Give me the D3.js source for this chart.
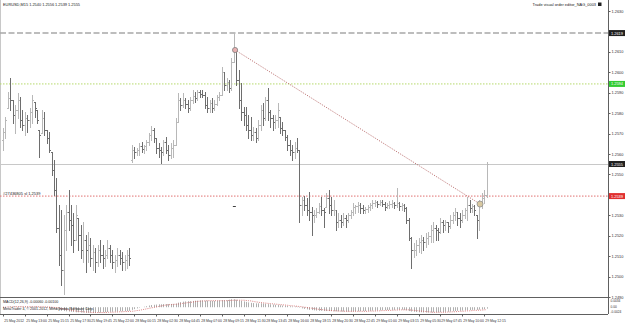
<!DOCTYPE html>
<meta charset="utf-8">
<script src="https://d3js.org/d3.v7.min.js"></script>
<style>
    body { margin: 0; background: #fff; }
    text { font-family: "Liberation Sans", Arial, sans-serif; }
</style>
<div id="chart"></div>
<script>
    // EURUSD M15 bars
    const opens = [
        1.25669,1.25708,1.25825,1.25874,1.25864,1.25791,1.25815,1.25864,1.25766,1.25742,
        1.25776,1.25766,1.25806,1.25855,1.25815,1.25717,1.25703,1.25776,1.25717,1.25678,
        1.25610,1.25522,1.25424,1.25238,1.25106,1.25032,1.25228,1.25316,1.25277,1.25252,
        1.25179,1.25287,1.25203,1.25130,1.25179,1.25130,1.25155,1.25091,1.25120,1.25071,
        1.25130,1.25106,1.25091,1.25106,1.25140,1.25106,1.25071,1.25081,1.25106,1.25091,
        1.25071,1.25081,1.25106,1.25571,1.25620,1.25610,1.25620,1.25639,1.25624,1.25639,
        1.25659,1.25693,1.25717,1.25678,1.25629,1.25620,1.25610,1.25659,1.25620,1.25595,
        1.25629,1.25644,1.25757,1.25864,1.25840,1.25864,1.25845,1.25825,1.25864,1.25884,
        1.25874,1.25903,1.25894,1.25889,1.25840,1.25825,1.25850,1.25825,1.25845,1.25879,
        1.25889,1.26001,1.25938,1.25952,1.25923,1.26050,1.26109,1.25962,1.25864,1.25806,
        1.25791,1.25742,1.25717,1.25693,1.25708,1.25678,1.25742,1.25815,1.25776,1.25864,
        1.25806,1.25776,1.25757,1.25766,1.25781,1.25727,1.25717,1.25683,1.25644,1.25620,
        1.25610,1.25629,1.25620,1.25350,1.25375,1.25350,1.25326,1.25316,1.25301,1.25301,
        1.25316,1.25345,1.25326,1.25341,1.25385,1.25350,1.25326,1.25326,1.25267,1.25277,
        1.25267,1.25287,1.25277,1.25301,1.25316,1.25341,1.25345,1.25350,1.25336,1.25326,
        1.25331,1.25341,1.25350,1.25360,1.25365,1.25355,1.25365,1.25355,1.25341,1.25350,
        1.25355,1.25360,1.25350,1.25360,1.25345,1.25350,1.25336,1.25277,1.25189,1.25130,
        1.25130,1.25155,1.25169,1.25179,1.25169,1.25189,1.25199,1.25228,1.25238,1.25228,
        1.25218,1.25267,1.25252,1.25267,1.25248,1.25277,1.25301,1.25316,1.25287,1.25277,
        1.25301,1.25326,1.25350,1.25336,1.25345,1.25301,1.25277,1.25350,1.25385,1.25399
    ];
    const highs = [
        1.25727,1.25781,1.25903,1.25972,1.25864,1.25840,1.25899,1.25879,1.25815,1.25806,
        1.25791,1.25825,1.25889,1.25855,1.25815,1.25717,1.25815,1.25806,1.25717,1.25708,
        1.25610,1.25571,1.25483,1.25350,1.25326,1.25301,1.25350,1.25424,1.25350,1.25311,
        1.25350,1.25287,1.25252,1.25267,1.25203,1.25218,1.25189,1.25155,1.25140,1.25155,
        1.25179,1.25155,1.25130,1.25179,1.25155,1.25130,1.25106,1.25140,1.25130,1.25120,
        1.25106,1.25130,1.25140,1.25644,1.25634,1.25629,1.25654,1.25659,1.25644,1.25669,
        1.25703,1.25737,1.25727,1.25678,1.25654,1.25634,1.25669,1.25683,1.25644,1.25654,
        1.25669,1.25776,1.25899,1.25874,1.25899,1.25874,1.25864,1.25879,1.25913,1.25903,
        1.25913,1.25913,1.25913,1.25903,1.25879,1.25864,1.25874,1.25864,1.25889,1.25903,
        1.26026,1.26001,1.25972,1.25962,1.26070,1.26192,1.26119,1.26011,1.25948,1.25830,
        1.25830,1.25791,1.25781,1.25732,1.25727,1.25766,1.25840,1.25850,1.25879,1.25923,
        1.25815,1.25791,1.25791,1.25850,1.25781,1.25757,1.25717,1.25693,1.25669,1.25644,
        1.25659,1.25678,1.25620,1.25390,1.25394,1.25385,1.25414,1.25341,1.25326,1.25336,
        1.25360,1.25390,1.25336,1.25409,1.25424,1.25390,1.25375,1.25326,1.25311,1.25301,
        1.25311,1.25301,1.25311,1.25326,1.25360,1.25350,1.25365,1.25360,1.25350,1.25341,
        1.25350,1.25360,1.25375,1.25375,1.25370,1.25375,1.25375,1.25365,1.25360,1.25370,
        1.25375,1.25365,1.25434,1.25365,1.25360,1.25355,1.25341,1.25287,1.25194,1.25164,
        1.25179,1.25189,1.25203,1.25194,1.25213,1.25218,1.25252,1.25267,1.25252,1.25238,
        1.25287,1.25277,1.25277,1.25267,1.25301,1.25316,1.25336,1.25316,1.25311,1.25326,
        1.25336,1.25390,1.25375,1.25355,1.25350,1.25301,1.25375,1.25409,1.25424,1.25561
    ];
    const lows = [
        1.25620,1.25678,1.25825,1.25815,1.25752,1.25703,1.25776,1.25732,1.25717,1.25693,
        1.25708,1.25732,1.25752,1.25781,1.25752,1.25585,1.25703,1.25693,1.25654,1.25610,
        1.25497,1.25399,1.25218,1.25057,1.24959,1.24915,1.25130,1.25228,1.25155,1.25120,
        1.25179,1.25130,1.25091,1.25071,1.25022,1.25071,1.25052,1.25032,1.25022,1.25052,
        1.25071,1.25042,1.25052,1.25091,1.25071,1.25042,1.25022,1.25052,1.25062,1.25032,
        1.25032,1.25042,1.25057,1.25561,1.25580,1.25595,1.25595,1.25610,1.25605,1.25620,
        1.25644,1.25669,1.25659,1.25605,1.25585,1.25556,1.25595,1.25605,1.25571,1.25580,
        1.25585,1.25644,1.25757,1.25815,1.25830,1.25825,1.25806,1.25815,1.25850,1.25855,
        1.25864,1.25879,1.25879,1.25825,1.25806,1.25806,1.25806,1.25815,1.25840,1.25864,
        1.25889,1.25913,1.25913,1.25903,1.25913,1.26050,1.25938,1.25825,1.25766,1.25742,
        1.25717,1.25678,1.25669,1.25669,1.25659,1.25669,1.25717,1.25742,1.25766,1.25766,
        1.25732,1.25717,1.25727,1.25732,1.25703,1.25693,1.25669,1.25620,1.25595,1.25571,
        1.25580,1.25610,1.25267,1.25301,1.25326,1.25301,1.25277,1.25203,1.25267,1.25292,
        1.25311,1.25301,1.25243,1.25341,1.25311,1.25301,1.25301,1.25228,1.25243,1.25243,
        1.25252,1.25243,1.25267,1.25287,1.25301,1.25311,1.25316,1.25311,1.25311,1.25311,
        1.25316,1.25326,1.25336,1.25345,1.25341,1.25350,1.25345,1.25326,1.25336,1.25336,
        1.25341,1.25336,1.25341,1.25326,1.25326,1.25321,1.25262,1.25179,1.25042,1.25096,
        1.25106,1.25120,1.25115,1.25130,1.25145,1.25159,1.25169,1.25169,1.25179,1.25179,
        1.25213,1.25218,1.25228,1.25218,1.25238,1.25262,1.25277,1.25252,1.25243,1.25267,
        1.25287,1.25277,1.25316,1.25316,1.25301,1.25189,1.25228,1.25336,1.25360,1.25390
    ];
    const closes = [
        1.25708,1.25766,1.25874,1.25864,1.25791,1.25815,1.25864,1.25766,1.25742,1.25776,
        1.25766,1.25806,1.25864,1.25825,1.25766,1.25693,1.25776,1.25717,1.25678,1.25620,
        1.25522,1.25424,1.25238,1.25106,1.25032,1.25228,1.25316,1.25277,1.25252,1.25179,
        1.25301,1.25203,1.25130,1.25179,1.25130,1.25155,1.25091,1.25120,1.25071,1.25130,
        1.25106,1.25091,1.25106,1.25140,1.25106,1.25071,1.25081,1.25106,1.25091,1.25071,
        1.25081,1.25106,1.25091,1.25620,1.25610,1.25620,1.25639,1.25624,1.25639,1.25659,
        1.25693,1.25717,1.25678,1.25629,1.25620,1.25610,1.25659,1.25620,1.25595,1.25629,
        1.25644,1.25757,1.25864,1.25840,1.25864,1.25845,1.25825,1.25864,1.25884,1.25874,
        1.25903,1.25894,1.25889,1.25840,1.25825,1.25850,1.25825,1.25845,1.25879,1.25889,
        1.26001,1.25938,1.25952,1.25923,1.26050,1.26109,1.25962,1.25864,1.25806,1.25791,
        1.25742,1.25717,1.25693,1.25708,1.25678,1.25742,1.25815,1.25776,1.25864,1.25806,
        1.25776,1.25757,1.25766,1.25815,1.25727,1.25717,1.25683,1.25644,1.25620,1.25610,
        1.25629,1.25620,1.25350,1.25375,1.25350,1.25326,1.25316,1.25301,1.25301,1.25316,
        1.25345,1.25326,1.25316,1.25385,1.25350,1.25326,1.25326,1.25267,1.25277,1.25267,
        1.25287,1.25277,1.25301,1.25316,1.25341,1.25345,1.25350,1.25336,1.25326,1.25331,
        1.25341,1.25350,1.25360,1.25365,1.25355,1.25365,1.25355,1.25341,1.25350,1.25355,
        1.25360,1.25350,1.25360,1.25345,1.25350,1.25336,1.25277,1.25189,1.25130,1.25130,
        1.25155,1.25169,1.25179,1.25169,1.25189,1.25199,1.25228,1.25238,1.25228,1.25218,
        1.25267,1.25252,1.25267,1.25248,1.25277,1.25301,1.25316,1.25287,1.25277,1.25301,
        1.25326,1.25350,1.25336,1.25345,1.25326,1.25277,1.25350,1.25385,1.25399,1.25551
    ];

    // MACD main (histogram) and signal, in pips
    const macdPips = [
        1,1,2,3,3,3,3,3,2,2,2,2,3,3,2,
        1,1,0,-1,-2,-4,-6,-9,-12,-15,-16,-17,-18,-19,-20,-21,
        -21,-22,-22,-23,-23,-23,-23,-23,-22,-22,-21,-21,-20,-19,-19,-18,-18,-17,-17,-16,-16,-15,
        -11,-8,-5,-2,0,2,4,7,9,10,11,12,12,13,13,13,13,13,
        15,19,21,23,24,25,25,26,27,27,28,28,27,27,26,26,26,26,28,29,29,29,31,33,33,31,28,26,24,
        22,20,18,17,16,16,16,15,14,13,12,11,10,9,8,7,6,5,4,3,3,2,
        -2,-5,-7,-9,-11,-12,-13,-14,-15,-15,-16,-16,-16,-16,-17,-17,-17,-18,-18,-18,-18,-18,-17,-17,-17,-16,-16,-16,-15,
        -15,-14,-14,-13,-13,-12,-12,-12,-11,-11,-11,-10,-10,-10,-11,-13,-16,-18,-19,-20,
        -21,-21,-22,-22,-22,-22,-21,-21,-21,-20,-20,-19,-19,-18,-17,-16,-15,-15,-14,-13,-12,-12,-11,-11,-11,-10,-9,-8,-6
    ];
    const signalPips = [
        0,0,1,1,1,2,2,2,2,2,2,2,2,2,2,
        2,2,2,1,1,0,-1,-2,-4,-5,-7,-9,-11,-13,-14,-16,
        -17,-18,-19,-20,-20,-21,-22,-22,-22,-22,-22,-22,-21,-21,-21,-20,-20,-19,-19,-18,-18,-17,
        -17,-16,-14,-13,-11,-9,-7,-5,-3,-1,1,3,5,7,9,10,11,12,
        12,13,14,16,17,19,20,21,23,24,25,26,26,27,27,27,27,27,27,27,27,27,28,28,29,29,29,29,29,
        28,27,26,24,22,21,19,18,17,16,15,14,13,12,11,10,9,8,7,6,5,4,
        3,2,0,-1,-3,-4,-6,-7,-9,-10,-11,-12,-13,-14,-15,-15,-16,-16,-16,-17,-17,-17,-17,-17,-17,-17,-17,-17,-17,
        -16,-16,-16,-15,-15,-14,-14,-13,-13,-13,-12,-12,-11,-11,-11,-11,-11,-12,-13,-14,
        -15,-16,-17,-18,-19,-20,-21,-21,-21,-21,-21,-21,-20,-20,-19,-19,-18,-17,-17,-16,-15,-15,-14,-13,-13,-12,-12,-11,-10
    ];

    const priceTicks = [1.2630,1.2620,1.2610,1.2600,1.2590,1.2580,1.2570,1.2560,1.2550,1.2540,1.2530,1.2520,1.2510,1.2500,1.2490];
    // one time label every 9 bars
    const timeLabels = ["25 May 2012","25 May 13:00","25 May 15:15","25 May 17:30","25 May 19:45","25 May 22:00",
        "28 May 00:15","28 May 02:30","28 May 04:45","28 May 07:00","28 May 09:15","28 May 11:30","28 May 13:45",
        "28 May 16:00","28 May 18:15","28 May 20:30","28 May 22:45","29 May 01:00","29 May 03:15","29 May 05:30",
        "29 May 07:45","29 May 10:00","29 May 12:15"];
    const subLabels = ["0.0034", "0.00", "-0.0024"];

    const topLevel = 1.26192, greenLevel = 1.25943, redLevel = 1.25394;
    const trendStart = {bar: 95.5, price: 1.26109}, trendEnd = {bar: 196.3, price: 1.25355};

    const W = 625, H = 325, axisX = 608, mainBottom = 297, subTop = 298, subBottom = 314;

    const svg = d3.select("#chart").append("svg")
        .attr("width", W).attr("height", H)
        .style("display", "block");

    const x = d3.scaleLinear().domain([0, closes.length - 1]).range([3, 486.6]);
    const y = d3.scaleLinear().domain([1.2490, 1.2630]).range([mainBottom, 11]);
    const ys = d3.scaleLinear().domain([-24, 34]).range([subBottom - 1, subTop + 1]);
    const px = i => Math.round(x(i)) + 0.5;
    const fmt = d3.format(".4f");
    const last = closes.length - 1;

    // frame
    svg.append("line").attr("x1", 0.5).attr("x2", 0.5).attr("y1", 0).attr("y2", subBottom)
        .attr("stroke", "#c8c8c8");
    svg.append("line").attr("x1", axisX + 0.5).attr("x2", axisX + 0.5).attr("y1", 0).attr("y2", subBottom)
        .attr("stroke", "#606060");
    [mainBottom + 0.5, subBottom + 0.5].forEach(v => {
        svg.append("line").attr("x1", 0).attr("x2", axisX).attr("y1", v).attr("y2", v)
            .attr("stroke", "#606060");
    });

    // horizontal levels
    svg.append("line").attr("x1", 0).attr("x2", axisX).attr("y1", y(topLevel)).attr("y2", y(topLevel))
        .attr("stroke", "#a8a8a8").attr("stroke-width", 1.6).attr("stroke-dasharray", "6,2.5");
    svg.append("line").attr("x1", 0).attr("x2", axisX).attr("y1", y(greenLevel)).attr("y2", y(greenLevel))
        .attr("stroke", "#b5d96a").attr("stroke-dasharray", "1.5,1.5");
    const bidY = Math.round(y(closes[last])) + 0.5;
    svg.append("line").attr("x1", 0).attr("x2", axisX).attr("y1", bidY).attr("y2", bidY)
        .attr("stroke", "#c8c8c8");
    svg.append("line").attr("x1", 0).attr("x2", axisX).attr("y1", y(redLevel)).attr("y2", y(redLevel))
        .attr("stroke", "#e07070").attr("stroke-dasharray", "1.5,1.5");

    // bars
    const idx = d3.range(closes.length);
    const barColor = i => closes[i] >= opens[i] ? "#b8b8b8" : "#6e6e6e";
    const bars = svg.append("g");
    bars.selectAll(".hl").data(idx).join("line")
        .attr("x1", px).attr("x2", px)
        .attr("y1", i => Math.round(y(highs[i])))
        .attr("y2", i => Math.round(y(lows[i])) + 1)
        .attr("stroke", barColor);
    bars.selectAll(".op").data(idx).join("line")
        .attr("x1", i => px(i) - 1.5).attr("x2", i => px(i))
        .attr("y1", i => Math.round(y(opens[i])) + 0.5).attr("y2", i => Math.round(y(opens[i])) + 0.5)
        .attr("stroke", barColor);
    bars.selectAll(".cl").data(idx).join("line")
        .attr("x1", i => px(i)).attr("x2", i => px(i) + 1.5)
        .attr("y1", i => Math.round(y(closes[i])) + 0.5).attr("y2", i => Math.round(y(closes[i])) + 0.5)
        .attr("stroke", barColor);

    // trend line with its two anchor points
    svg.append("line")
        .attr("x1", x(trendStart.bar)).attr("y1", y(trendStart.price))
        .attr("x2", x(trendEnd.bar)).attr("y2", y(trendEnd.price))
        .attr("stroke", "#c07a7a").attr("stroke-dasharray", "1.2,1.3");
    svg.append("circle").attr("cx", x(trendStart.bar)).attr("cy", y(trendStart.price)).attr("r", 2.6)
        .attr("fill", "#e8b0b0").attr("stroke", "#808080").attr("stroke-width", 0.8);
    svg.append("circle").attr("cx", x(trendEnd.bar)).attr("cy", y(trendEnd.price)).attr("r", 3)
        .attr("fill", "#d8c8a0").attr("stroke", "#909090").attr("stroke-width", 0.8);
    svg.append("line").attr("x1", x(95) - 1).attr("x2", x(95) + 2).attr("y1", 206.5).attr("y2", 206.5)
        .attr("stroke", "#404040");

    // order label on the red line
    svg.append("text").attr("x", 3).attr("y", y(redLevel) - 1)
        .style("font-size", "4px").attr("fill", "#202020").text("#27436805 sl 1.2539");

    // MACD sub window
    const sub = svg.append("g");
    sub.selectAll("line").data(idx).join("line")
        .attr("x1", px).attr("x2", px)
        .attr("y1", ys(0)).attr("y2", i => ys(macdPips[i]))
        .attr("stroke", "#b0b0b0");
    sub.append("path").datum(idx)
        .attr("d", d3.line().x(i => x(i)).y(i => ys(signalPips[i])))
        .attr("fill", "none").attr("stroke", "#d06060").attr("stroke-width", 0.8)
        .attr("stroke-dasharray", "1,1.2");

    svg.append("text").attr("x", 3).attr("y", 303.2).style("font-size", "3.6px").attr("fill", "#202020")
        .text("MACD(12,26,9) -0.00060 -0.00100");
    svg.append("text").attr("x", 3).attr("y", 309.5).style("font-size", "3.6px").attr("fill", "#202020")
        .text("MetaTrader 4, © 2001-2012, MetaQuotes Software Corp.");

    // price axis; plain ticks hidden where a price tag sits
    const tags = [
        {p: topLevel, bg: "#202020", fg: "#ffffff"},
        {p: greenLevel, bg: "#33cc33", fg: "#ffffff"},
        {p: closes[last], bg: "#202020", fg: "#ffffff"},
        {p: redLevel, bg: "#e03030", fg: "#ffffff"}
    ];
    const axisG = svg.append("g");
    priceTicks.forEach(p => {
        axisG.append("line").attr("x1", axisX).attr("x2", axisX + 2.5)
            .attr("y1", Math.round(y(p)) + 0.5).attr("y2", Math.round(y(p)) + 0.5).attr("stroke", "#606060");
        if (tags.some(t => Math.abs(y(t.p) - y(p)) < 6.5)) return;
        axisG.append("text").attr("x", axisX + 3.5).attr("y", y(p) + 1.5)
            .style("font-size", "3.9px").attr("fill", "#303030").text(fmt(p));
    });
    tags.forEach(t => {
        axisG.append("rect").attr("x", axisX + 1).attr("y", y(t.p) - 3).attr("width", 16).attr("height", 6)
            .attr("fill", t.bg);
        axisG.append("text").attr("x", axisX + 3).attr("y", y(t.p) + 1.5)
            .style("font-size", "3.9px").attr("fill", t.fg).text(fmt(t.p));
    });
    subLabels.forEach((s, k) => {
        axisG.append("text").attr("x", axisX + 2.5).attr("y", 302 + k * 5.5)
            .style("font-size", "3.2px").attr("fill", "#303030").text(s);
    });

    // time axis
    timeLabels.forEach((s, k) => {
        const xi = px(k * 9);
        svg.append("line").attr("x1", xi).attr("x2", xi).attr("y1", subBottom).attr("y2", subBottom + 2.5)
            .attr("stroke", "#606060");
        svg.append("text").attr("x", xi + 0.8).attr("y", 321.5)
            .style("font-size", "3.4px").attr("fill", "#303030").text(s);
    });

    // titles
    svg.append("text").attr("x", 3).attr("y", 6).style("font-size", "3.9px").attr("fill", "#202020")
        .text("EURUSD,M15 " + [opens[last], highs[last], lows[last], closes[last]].map(fmt).join(" "));
    svg.append("text").attr("x", 596).attr("y", 6).attr("text-anchor", "end")
        .style("font-size", "3.9px").attr("fill", "#202020").text("Trade visual order editor_NAG_0003");
    svg.append("rect").attr("x", 598).attr("y", 2.5).attr("width", 3.5).attr("height", 3.5).attr("fill", "#202020");
</script>
